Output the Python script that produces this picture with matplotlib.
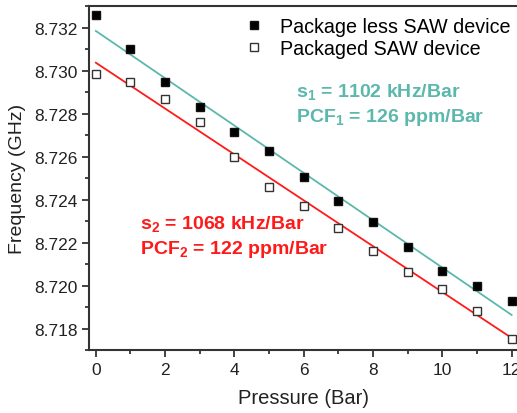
# saw_pressure.py
# Frequency shift of SAW devices vs pressure
import numpy as np
import matplotlib.pyplot as plt

plt.rcParams['font.family'] = ['Liberation Sans', 'DejaVu Sans']
plt.rcParams['mathtext.fontset'] = 'custom'
plt.rcParams['mathtext.rm'] = 'Liberation Sans'
plt.rcParams['mathtext.bf'] = 'Liberation Sans:bold'

pressure = [0, 1, 2, 3, 4, 5, 6, 7, 8, 9, 10, 11, 12]
freq_less = [8.73259, 8.73102, 8.72950, 8.72833, 8.72716, 8.72627, 8.72505,
             8.72396, 8.72295, 8.72178, 8.72068, 8.72000, 8.71927]
freq_pack = [8.72985, 8.72946, 8.72871, 8.72760, 8.72599, 8.72461, 8.72370,
             8.72267, 8.72162, 8.72063, 8.71985, 8.71881, 8.71751]

# linear fits as drawn (slope GHz/Bar, intercept GHz)
fit_less = [-0.001102, 8.73186]
fit_pack = [-0.001068, 8.73038]

teal = '#5cb8ac'
red = '#ff1a1a'

fig = plt.figure(figsize=(5.17, 4.14), dpi=100)
ax = fig.add_axes([0.173, 0.152, 0.829, 0.830])

x = np.array(pressure)
ax.plot(x, np.poly1d(fit_less)(x), color=teal, lw=1.3, zorder=2)
ax.plot(x, np.poly1d(fit_pack)(x), color=red, lw=1.3, zorder=2)

ax.plot(pressure, freq_less, 's', color='black', ms=6.4, mec='#111111',
        label='Package less SAW device', zorder=3)
ax.plot(pressure, freq_pack, 's', mfc='white', mec='#333333', mew=1.0, ms=6.4,
        label='Packaged SAW device', zorder=3)

ax.set_xlim(-0.185, 12.185)
ax.set_ylim(8.717, 8.733)
ax.set_xticks(range(0, 13, 2))
ax.set_xticks(range(1, 13, 2), minor=True)
ax.set_yticks(np.arange(8.718, 8.7325, 0.002))
ax.set_yticks(np.arange(8.717, 8.7335, 0.001), minor=True)
ax.set_yticklabels(['%.3f' % v for v in np.arange(8.718, 8.7325, 0.002)])
ax.tick_params(which='major', direction='out', length=5, width=1.2, labelsize=12.5,
               colors='#222222')
ax.tick_params(which='minor', direction='out', length=3, width=1.2, colors='#222222')
for sp in ax.spines.values():
    sp.set_linewidth(1.5)
    sp.set_color('#333333')

ax.set_xlabel('Pressure (Bar)', fontsize=14.5, color='#222222', labelpad=8)
ax.set_ylabel('Frequency (GHz)', fontsize=14, color='#222222', labelpad=6)

ax.legend(loc='upper right', fontsize=14.2, frameon=False, handletextpad=0.95,
          borderaxespad=0.2, handlelength=0.8, labelspacing=0.15,
          bbox_to_anchor=(1.011, 1.003))

ax.text(0.481, 0.755, r'$\mathbf{s_1}$ = 1102 kHz/Bar', transform=ax.transAxes,
        color=teal, fontsize=14, fontweight='bold', va='center')
ax.text(0.481, 0.68, r'$\mathbf{PCF_1}$ = 126 ppm/Bar', transform=ax.transAxes,
        color=teal, fontsize=14, fontweight='bold', va='center')
ax.text(0.117, 0.37, r'$\mathbf{s_2}$ = 1068 kHz/Bar', transform=ax.transAxes,
        color=red, fontsize=14, fontweight='bold', va='center')
ax.text(0.117, 0.295, r'$\mathbf{PCF_2}$ = 122 ppm/Bar', transform=ax.transAxes,
        color=red, fontsize=14, fontweight='bold', va='center')

plt.savefig('out.png', dpi=100)
